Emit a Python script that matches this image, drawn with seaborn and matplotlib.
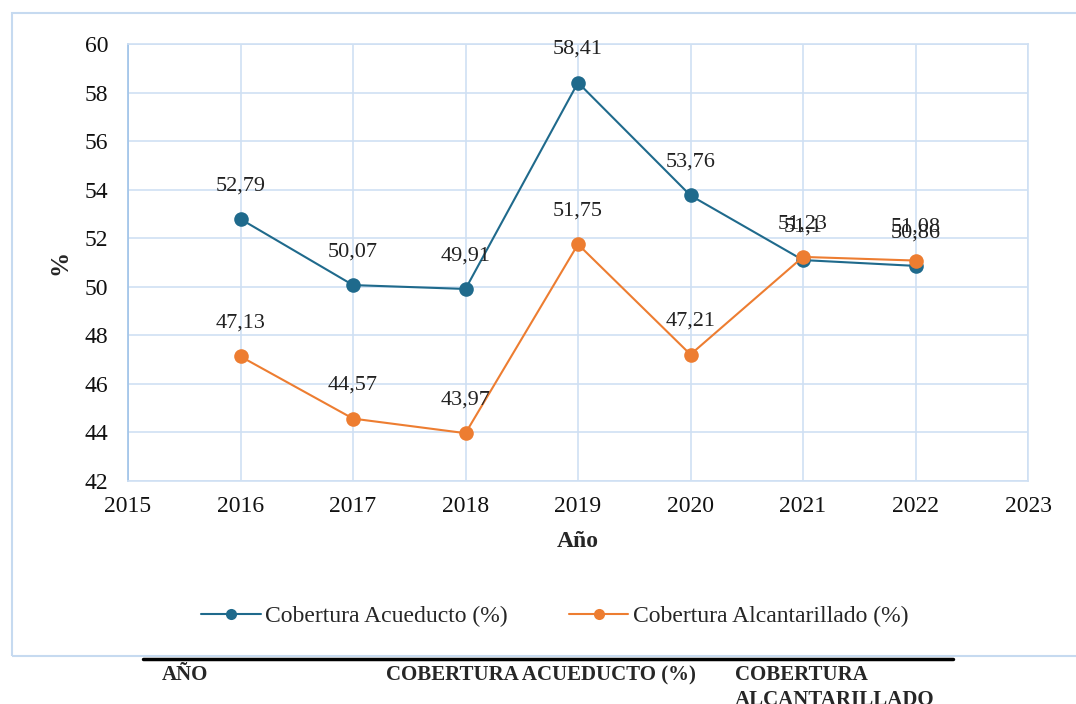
import seaborn as sns
import matplotlib.pyplot as plt
import matplotlib.patches as mpatches
import pandas as pd

# Datos
anios = [2016, 2017, 2018, 2019, 2020, 2021, 2022]
acueducto = [52.79, 50.07, 49.91, 58.41, 53.76, 51.1, 50.86]
alcantarillado = [47.13, 44.57, 43.97, 51.75, 47.21, 51.23, 51.08]
etiquetas_acu = ["52,79", "50,07", "49,91", "58,41", "53,76", "51,1", "50,86"]
etiquetas_alc = ["47,13", "44,57", "43,97", "51,75", "47,21", "51,23", "51,08"]
serie_acu = "Cobertura Acueducto (%)"
serie_alc = "Cobertura Alcantarillado (%)"
encabezados = ["AÑO", "COBERTURA ACUEDUCTO (%)", "COBERTURA\nALCANTARILLADO"]

df = pd.DataFrame({
    "Año": anios * 2,
    "valor": acueducto + alcantarillado,
    "serie": [serie_acu] * len(anios) + [serie_alc] * len(anios),
})

sns.set_theme(style="white")
plt.rcParams["font.family"] = ["Liberation Serif", "DejaVu Serif"]

azul = "#1F6A8C"
naranja = "#ED7D31"
grid_col = "#CFE0F3"

fig = plt.figure(figsize=(10.76, 7.04), dpi=100)

# marco exterior del grafico
fig.patches.append(mpatches.Rectangle((12 / 1076, 1 - 656 / 704), 1.2, (656 - 13) / 704,
                                      transform=fig.transFigure, fill=False,
                                      edgecolor="#C6DAF0", linewidth=1.5))

ax = fig.add_axes([128 / 1076, 1 - 481 / 704, 900 / 1076, 437 / 704])

sns.lineplot(data=df, x="Año", y="valor", hue="serie", palette=[azul, naranja],
             marker="o", markersize=10.5, markeredgewidth=0, linewidth=1.5,
             ax=ax, legend=False)

for x, y, t in zip(anios, acueducto, etiquetas_acu):
    ax.annotate(t, (x, y), xytext=(0, 24), textcoords="offset points",
                ha="center", va="center", fontsize=16, color="#222222")
for x, y, t in zip(anios, alcantarillado, etiquetas_alc):
    ax.annotate(t, (x, y), xytext=(0, 24), textcoords="offset points",
                ha="center", va="center", fontsize=16, color="#222222")

ax.set_xlim(2015, 2023)
ax.set_ylim(42, 60)
ax.set_xticks(range(2015, 2024))
ax.set_yticks(range(42, 61, 2))
ax.tick_params(axis="both", labelsize=17, length=0, colors="#111111")
ax.tick_params(axis="x", pad=11)
ax.tick_params(axis="y", pad=14)
ax.grid(True, color=grid_col, linewidth=1.2)
ax.set_axisbelow(True)
for s in ax.spines.values():
    s.set_color(grid_col)
    s.set_linewidth(1.2)
ax.spines["left"].set_color("#9EC2E8")

ax.set_xlabel("Año", fontsize=17, fontweight="bold", labelpad=10)
ax.set_ylabel("%", fontsize=18, fontweight="bold", labelpad=10)

h1 = plt.Line2D([], [], color=azul, marker="o", markersize=8, markeredgewidth=0, linewidth=1.5)
h2 = plt.Line2D([], [], color=naranja, marker="o", markersize=8, markeredgewidth=0, linewidth=1.5)
fig.legend([h1, h2], [serie_acu, serie_alc], loc="center",
           bbox_to_anchor=(555 / 1076, 1 - 616 / 704), ncol=2, frameon=False,
           fontsize=17, handlelength=2.5, handletextpad=0.2, columnspacing=2.6)

# encabezado de la tabla inferior
fig.add_artist(plt.Line2D([143 / 1076, 953 / 1076], [1 - 659 / 704] * 2,
                          transform=fig.transFigure, color="black", linewidth=2.5))
y_top = 1 - 665 / 704
fig.text(162 / 1076, y_top, encabezados[0], fontsize=15, fontweight="bold",
         va="top", ha="left")
fig.text(386 / 1076, y_top, encabezados[1], fontsize=15, fontweight="bold",
         va="top", ha="left")
fig.text(735 / 1076, y_top, encabezados[2], fontsize=15, fontweight="bold",
         va="top", ha="left", linespacing=1.35)

fig.savefig("out.png", dpi=100)
